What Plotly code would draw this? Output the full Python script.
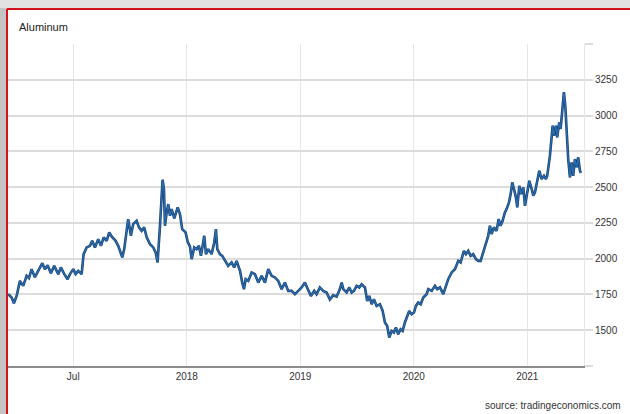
import plotly.graph_objects as go

# decimal-year positions and aluminum price (USD/t)
years = [
    2016.927, 2016.957, 2016.977, 2017.001, 2017.030, 2017.059, 2017.089, 2017.110, 2017.133, 2017.162,
    2017.191, 2017.227, 2017.250, 2017.274, 2017.303, 2017.332, 2017.368, 2017.391, 2017.421, 2017.450,
    2017.471, 2017.500, 2017.521, 2017.544, 2017.574, 2017.591, 2017.618, 2017.647, 2017.667, 2017.691,
    2017.720, 2017.744, 2017.768, 2017.794, 2017.817, 2017.838, 2017.873, 2017.896, 2017.932, 2017.949,
    2017.984, 2018.008, 2018.028, 2018.058, 2018.079, 2018.102, 2018.125, 2018.147, 2018.176, 2018.205,
    2018.226, 2018.243, 2018.264, 2018.279, 2018.287, 2018.299, 2018.308, 2018.323, 2018.337, 2018.352,
    2018.367, 2018.390, 2018.420, 2018.440, 2018.460, 2018.490, 2018.508, 2018.528, 2018.543, 2018.566,
    2018.587, 2018.607, 2018.625, 2018.654, 2018.669, 2018.689, 2018.719, 2018.742, 2018.757, 2018.769,
    2018.792, 2018.813, 2018.836, 2018.865, 2018.895, 2018.918, 2018.939, 2018.969, 2018.989, 2019.004,
    2019.019, 2019.042, 2019.072, 2019.101, 2019.130, 2019.160, 2019.189, 2019.218, 2019.248, 2019.277,
    2019.306, 2019.336, 2019.365, 2019.394, 2019.424, 2019.453, 2019.482, 2019.512, 2019.541, 2019.570,
    2019.594, 2019.623, 2019.644, 2019.673, 2019.702, 2019.732, 2019.761, 2019.791, 2019.821, 2019.850,
    2019.865, 2019.879, 2019.909, 2019.932, 2019.953, 2019.973, 2019.997, 2020.020, 2020.041, 2020.055,
    2020.070, 2020.090, 2020.108, 2020.129, 2020.149, 2020.173, 2020.202, 2020.226, 2020.246, 2020.266,
    2020.284, 2020.305, 2020.325, 2020.343, 2020.363, 2020.384, 2020.402, 2020.422, 2020.443, 2020.460,
    2020.481, 2020.502, 2020.519, 2020.539, 2020.561, 2020.584, 2020.613, 2020.628, 2020.658, 2020.687,
    2020.707, 2020.731, 2020.760, 2020.784, 2020.804, 2020.834, 2020.863, 2020.892, 2020.913, 2020.942,
    2020.960, 2020.980, 2021.001, 2021.024, 2021.048, 2021.068, 2021.089, 2021.112, 2021.136, 2021.156,
    2021.171, 2021.186, 2021.206, 2021.230, 2021.248, 2021.265, 2021.283, 2021.303, 2021.318, 2021.339,
    2021.354, 2021.368, 2021.383, 2021.400, 2021.412, 2021.430, 2021.444, 2021.465, 2021.480, 2021.500,
    2021.518, 2021.539, 2021.553, 2021.568, 2021.588, 2021.606, 2021.627, 2021.647, 2021.665, 2021.676,
    2021.700, 2021.715, 2021.724, 2021.735, 2021.753, 2021.764, 2021.782, 2021.794, 2021.806, 2021.823,
    2021.835, 2021.847, 2021.861, 2021.876, 2021.891, 2021.905, 2021.920, 2021.935, 2021.949, 2021.964,
    2021.973,
]
prices = [
    1752, 1729, 1689, 1740, 1845, 1810, 1880, 1864, 1927, 1871,
    1915, 1969, 1927, 1955, 1899, 1950, 1892, 1939, 1892, 1857,
    1892, 1927, 1892, 1915, 1892, 2032, 2079, 2090, 2125, 2079,
    2137, 2090, 2149, 2125, 2184, 2156, 2125, 2090, 2009, 2067,
    2277, 2160, 2242, 2265, 2219, 2195, 2219, 2149, 2102, 2079,
    2044, 1974, 2230, 2394, 2552, 2487, 2230, 2324, 2382, 2300,
    2347, 2282, 2359, 2312, 2207, 2184, 2118, 2086, 1997, 2079,
    2067, 2090, 2020, 2160, 2032, 2067, 2032, 2114, 2207, 2067,
    2032, 2020, 1992, 1950, 1974, 1939, 1985, 1915, 1833, 1787,
    1857, 1845, 1904, 1892, 1833, 1880, 1833, 1927, 1880, 1869,
    1845, 1787, 1833, 1775, 1775, 1752, 1775, 1799, 1833, 1787,
    1740, 1775, 1752, 1799, 1775, 1764, 1715, 1745, 1735, 1790,
    1833, 1787, 1764, 1799, 1764, 1775, 1810, 1799, 1822, 1810,
    1799, 1705, 1740, 1682, 1717, 1670, 1682, 1635, 1554, 1530,
    1449, 1495, 1484, 1519, 1472, 1507, 1495, 1554, 1600, 1635,
    1612, 1624, 1670, 1693, 1682, 1729, 1752, 1787, 1775, 1810,
    1787, 1799, 1752, 1810, 1857, 1904, 1927, 1985, 1974, 2055,
    2032, 2055, 2020, 2032, 1997, 1985, 1985, 2044, 2114, 2160,
    2230, 2172, 2219, 2195, 2277, 2230, 2265, 2324, 2347, 2394,
    2452, 2534, 2487, 2429, 2359, 2510, 2452, 2499, 2370, 2464,
    2545, 2487, 2440, 2464, 2534, 2615, 2557, 2580, 2557, 2580,
    2720, 2837, 2930, 2860, 2930, 2848, 2953, 2907, 3035, 3164,
    3070, 2884, 2697, 2569, 2674, 2580, 2697, 2639, 2709, 2615,
    2600,
]

x_tickvals = [2017.5, 2018.5, 2019.5, 2020.5, 2021.5]
x_ticktext = ["Jul", "2018", "2019", "2020", "2021"]
y_tickvals = [1250, 1500, 1750, 2000, 2250, 2500, 2750, 3000, 3250, 3500]
y_ticktext = ["", "1500", "1750", "2000", "2250", "2500", "2750", "3000", "3250", ""]

fig = go.Figure()
fig.add_trace(go.Scatter(
    x=years, y=prices, mode="lines",
    line=dict(color="#17406e", width=2.6),
    hoverinfo="skip", showlegend=False,
))
fig.add_trace(go.Scatter(
    x=years, y=prices, mode="lines",
    line=dict(color="#2b6cb0", width=1.3),
    showlegend=False,
))

font_family = "Liberation Sans, Arial, sans-serif"

fig.update_layout(
    width=630, height=414,
    margin=dict(l=8, r=46, t=44, b=48),
    paper_bgcolor="white", plot_bgcolor="white",
    font=dict(family=font_family, size=10, color="#333333"),
    xaxis=dict(
        range=[2016.925, 2022.0],
        tickmode="array", tickvals=x_tickvals, ticktext=x_ticktext,
        showgrid=True, gridcolor="#e6e6e6", gridwidth=1,
        showline=True, linecolor="#8c8c8c", linewidth=2,
        ticks="", zeroline=False,
        tickfont=dict(size=10, color="#333333"),
    ),
    yaxis=dict(
        range=[1250, 3501], side="right",
        tickmode="array", tickvals=y_tickvals, ticktext=y_ticktext,
        showgrid=True, gridcolor="#dcdcdc", gridwidth=1.5,
        showline=True, linecolor="#e6e6e6", linewidth=1,
        ticks="outside", ticklen=8, tickcolor="#dcdcdc", tickwidth=1.5,
        zeroline=False,
        tickfont=dict(size=10, color="#333333"),
    ),
    shapes=[
        # outer shadow strips
        dict(type="rect", xref="paper", yref="paper", x0=-0.02, x1=-0.0017, y0=-0.2, y1=1.2,
             fillcolor="#c4c4c4", line=dict(width=0), layer="above"),
        dict(type="rect", xref="paper", yref="paper", x0=-0.02, x1=1.1, y0=1.112, y1=1.2,
             fillcolor="#e2e2e2", line=dict(width=0), layer="above"),
        # red frame
        dict(type="line", xref="paper", yref="paper", x0=-0.0017, x1=-0.0017, y0=-0.2, y1=1.109,
             line=dict(color="#d3121b", width=2), layer="above"),
        dict(type="line", xref="paper", yref="paper", x0=-0.0017, x1=1.1, y0=1.109, y1=1.109,
             line=dict(color="#d3121b", width=2), layer="above"),
    ],
    annotations=[
        dict(text="Aluminum", xref="paper", yref="paper", x=0.0156, y=1.053,
             xanchor="left", yanchor="middle", showarrow=False,
             font=dict(size=11, color="#222222", family=font_family)),
        dict(text="source: tradingeconomics.com", xref="paper", yref="paper", x=1.068, y=-0.124,
             xanchor="right", yanchor="middle", showarrow=False,
             font=dict(size=10, color="#333333", family=font_family)),
    ],
)

fig.write_html(
    "out.html",
    config={"displayModeBar": False},
    post_script="document.body.style.margin='0';document.body.style.overflow='hidden';",
)
